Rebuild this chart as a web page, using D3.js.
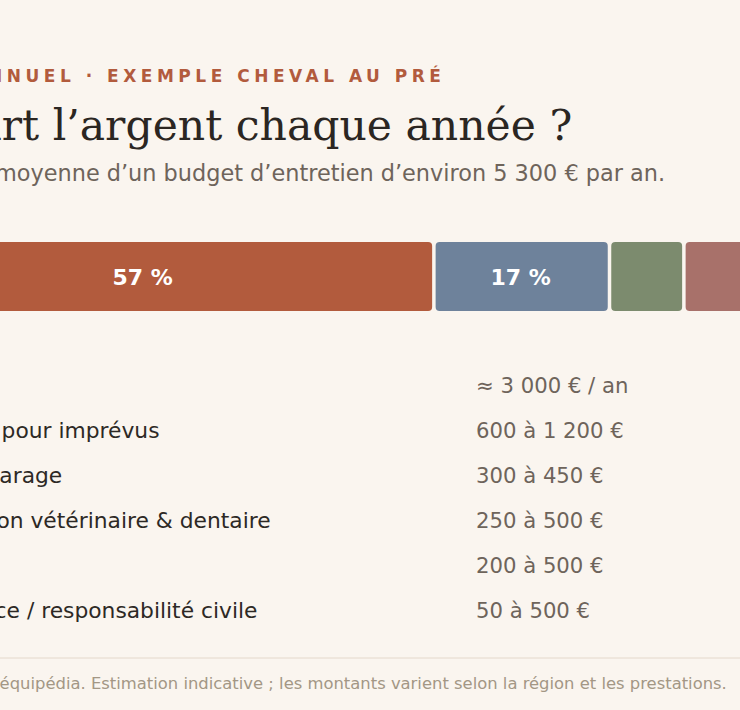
<!DOCTYPE html>
<html>
<head>
<meta charset="utf-8">
<script src="https://cdn.jsdelivr.net/npm/d3@7"></script>
<style>
  html, body { margin: 0; padding: 0; background: #faf5ef; overflow: hidden; }
  svg { display: block; }
</style>
</head>
<body>
<script>
//chart data
var categories = ["Pension", "Réserve pour imprévus", "Pieds / parage",
    "Prévention vétérinaire & dentaire", "Matériel", "Assurance / responsabilité civile"];
var shares = [57, 17, 7, 7, 7, 5];
var amounts = ["≈ 3 000 € / an", "600 à 1 200 €", "300 à 450 €", "250 à 500 €", "200 à 500 €", "50 à 500 €"];
var colors = ["#b25b3d", "#6e829b", "#7c8b6e", "#a8716a", "#c7a26a", "#9c9186"];

var kicker = "BUDGET ANNUEL · EXEMPLE CHEVAL AU PRÉ";
var title = "Où part l’argent chaque année ?";
var subtitle = "Répartition moyenne d’un budget d’entretien d’environ 5 300 € par an.";
var source = "Sources : IFCE / équipédia. Estimation indicative ; les montants varient selon la région et les prestations.";

//page and block sizes
var W = 740, H = 710;
var blockW = 1030;
var left = (W - blockW) / 2;
var gap = 3.5;

var svg = d3.select("body").append("svg")
    .attr("width", W)
    .attr("height", H);

svg.append("rect")
    .attr("width", W).attr("height", H)
    .attr("fill", "#faf5ef");

var g = svg.append("g")
    .attr("transform", "translate(" + left + ",0)");

//header texts
g.append("text")
    .attr("x", 0).attr("y", 82)
    .attr("fill", "#b25b3d")
    .style("font", "bold 17px 'DejaVu Sans'")
    .style("letter-spacing", "4.5px")
    .text(kicker);

g.append("text")
    .attr("x", 18.5).attr("y", 140)
    .attr("fill", "#2b2622")
    .style("font", "42.5px 'DejaVu Serif'")
    .text(title);

g.append("text")
    .attr("x", 9.5).attr("y", 181)
    .attr("fill", "#6e645b")
    .style("font", "22.4px 'DejaVu Sans'")
    .text(subtitle);

//stacked share bar
var total = d3.sum(shares);
var x = d3.scaleLinear().domain([0, total]).range([0, blockW - gap * (shares.length - 1)]);
var starts = d3.cumsum([0].concat(shares.slice(0, -1)));

var bar = g.append("g").attr("transform", "translate(0,242)");
var barH = 69;

var seg = bar.selectAll("g.seg")
    .data(shares)
    .enter().append("g")
    .attr("class", "seg")
    .attr("transform", (d, i) => "translate(" + (x(starts[i]) + i * gap) + ",0)");

seg.append("rect")
    .attr("width", d => x(d))
    .attr("height", barH)
    .attr("rx", 4)
    .attr("fill", (d, i) => colors[i]);

//percent labels on the wide segments only
seg.filter(d => d >= 10).append("text")
    .attr("x", d => x(d) / 2 - 1)
    .attr("y", barH / 2 + 8)
    .attr("text-anchor", "middle")
    .attr("fill", "#ffffff")
    .style("font", "bold 22px 'DejaVu Sans'")
    .text(d => d + " %");

//rows with labels and amounts
var y = d3.scalePoint().domain(d3.range(categories.length)).range([392.7, 392.7 + 45 * 5]);

var rows = g.selectAll("g.row")
    .data(categories)
    .enter().append("g")
    .attr("class", "row")
    .attr("transform", (d, i) => "translate(0," + y(i) + ")");

rows.append("rect")
    .attr("x", 0).attr("y", -14)
    .attr("width", 16).attr("height", 16)
    .attr("rx", 3)
    .attr("fill", (d, i) => colors[i]);

rows.append("text")
    .attr("x", 52)
    .attr("fill", "#2d2925")
    .style("font", "21.8px 'DejaVu Sans'")
    .text(d => d);

rows.append("text")
    .attr("x", 621)
    .attr("fill", "#6e645b")
    .style("font", "21.2px 'DejaVu Sans'")
    .text((d, i) => amounts[i]);

//footer
g.append("line")
    .attr("x1", 0).attr("x2", blockW)
    .attr("y1", 658).attr("y2", 658)
    .attr("stroke", "#e4d8cb")
    .attr("stroke-width", 1);

g.append("text")
    .attr("x", 11.8).attr("y", 689)
    .attr("fill", "#a39785")
    .style("font", "16.4px 'DejaVu Sans'")
    .text(source);
</script>
</body>
</html>
